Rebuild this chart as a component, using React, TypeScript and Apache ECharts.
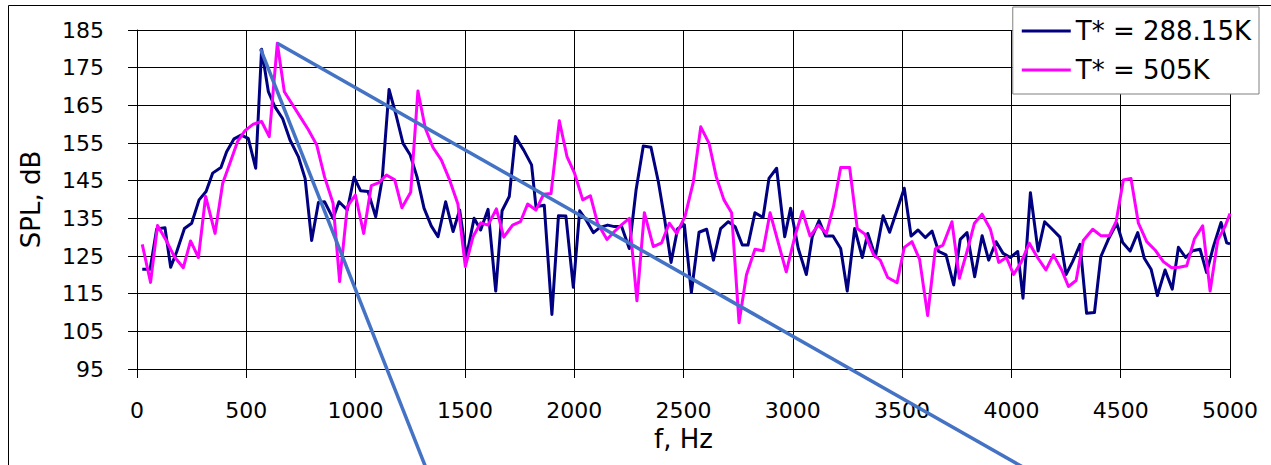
import React, { useEffect, useRef } from "react";
import * as echarts from "echarts";

const seriesNames = ["T* = 288.15K", "T* = 505K"];

const t288: [number, number][] = [
  [24,121.5],[60,121.5],[90,132.2],[128,132.5],[154,122],[182,126.2],[217,132.3],[250,133.7],[284,139.9],[316,142.1],
  [346,147],[384,148.5],[410,152.7],[444,156.1],[476,157.1],[509,156.2],[543,148.3],[570,179.9],[601,168.6],[631,164.6],
  [666,161.5],[700,155.8],[738,151.4],[769,145.6],[799,129.1],[830,139.2],[858,139.4],[897,135],[924,139.4],[962,137.2],
  [993,145.9],[1023,142.3],[1057,142.1],[1092,135.4],[1122,145.6],[1153,169.2],[1183,162.9],[1217,154.9],[1250,151.8],[1281,146],
  [1313,137.7],[1346,133],[1377,130.1],[1412,139.4],[1446,131.5],[1476,137.2],[1507,124.8],[1542,135],[1572,131.9],[1606,137.4],
  [1641,115.7],[1670,137],[1703,140.8],[1731,156.7],[1769,153.1],[1805,149.2],[1825,138.1],[1863,138.5],[1898,109.5],[1928,135.7],
  [1962,135.6],[1996,116.7],[2025,137],[2054,134.6],[2088,131.2],[2118,132.6],[2153,133.2],[2184,132.8],[2217,132.8],[2252,127],
  [2283,142.5],[2316,154.2],[2351,153.9],[2385,144.7],[2412,135.4],[2443,123.3],[2473,132.2],[2504,133.3],[2536,115.3],[2571,131.3],
  [2606,132.1],[2637,123.9],[2670,132.3],[2705,134.1],[2736,132.8],[2769,127.9],[2795,127.9],[2827,136.5],[2864,135.2],[2891,145.6],
  [2926,148.3],[2963,130.1],[2990,137.7],[3025,127],[3062,120.1],[3089,130.1],[3120,134.4],[3150,130.3],[3184,130.3],[3219,127],
  [3249,115.7],[3283,132.3],[3318,124.6],[3343,131],[3378,124.8],[3413,135.7],[3443,131.3],[3477,137.2],[3510,143],[3541,130.3],
  [3573,131.9],[3606,129.9],[3637,131.6],[3667,126.2],[3701,125.3],[3736,117.3],[3766,129.4],[3797,131.2],[3832,119.5],[3866,130.4],
  [3896,123.9],[3930,128.8],[3962,125.7],[3995,124.6],[4029,126.2],[4053,113.8],[4087,141.8],[4122,126.3],[4152,134.1],[4180,132.5],
  [4222,130],[4250,120.1],[4280,123.5],[4314,128.1],[4344,109.8],[4380,110],[4409,124.8],[4444,129.5],[4482,133.7],[4509,128.6],
  [4543,126.3],[4578,131.2],[4608,124.4],[4639,121.5],[4668,114.5],[4703,121.3],[4736,116.2],[4764,127.3],[4797,124.6],[4829,126.4],
  [4863,126.8],[4893,120.6],[4924,127.5],[4959,133.9],[4985,128.5],[5000,128.2]
];

const t505: [number, number][] = [
  [24,128.1],[62,118],[94,133.1],[133,129.2],[171,124.8],[212,121.9],[245,129],[281,124.6],[314,140.8],[357,131],
  [392,144.3],[425,149.6],[460,155.4],[494,158.3],[532,160],[570,160.7],[605,156.7],[642,181.5],[674,168.6],[708,165.5],
  [746,162],[784,158.5],[822,154.5],[858,146],[897,139],[927,118.2],[962,138.1],[999,141.2],[1037,131],[1072,143.7],
  [1107,144.5],[1141,146.5],[1179,145.2],[1212,137.8],[1252,141.9],[1285,168.8],[1319,158.9],[1354,153.8],[1392,150.5],[1430,145.2],
  [1468,138.8],[1502,122.2],[1537,130.1],[1572,133.8],[1606,133.2],[1644,137.5],[1678,130],[1718,133.2],[1754,134.1],[1787,138.8],
  [1825,137.2],[1860,141.4],[1894,141.6],[1932,160.9],[1967,151.4],[2001,147.1],[2039,139.9],[2074,141],[2107,133.7],[2150,129.4],
  [2184,131.5],[2219,133.4],[2252,135],[2287,113.1],[2321,136.5],[2362,127.5],[2400,128.5],[2435,133.7],[2469,131],[2507,135.5],
  [2545,144.7],[2579,159.3],[2617,154.9],[2650,146],[2685,139.9],[2720,136.5],[2754,107.3],[2788,120],[2827,126.8],[2864,126.4],
  [2896,136.5],[2934,128.4],[2970,120.8],[3009,130.1],[3044,136.8],[3079,130.3],[3117,133.2],[3154,131],[3186,138.1],[3219,148.5],
  [3260,148.5],[3295,132.3],[3330,130.8],[3370,125.3],[3400,123.9],[3434,119.3],[3477,117.9],[3510,127.3],[3545,128.8],[3580,124.1],
  [3617,109.2],[3652,126.9],[3687,127.9],[3728,134.1],[3762,119.1],[3797,126.2],[3831,133.7],[3866,136.1],[3904,132.1],[3942,123.3],
  [3977,124.6],[4010,120.1],[4046,123.5],[4082,128.4],[4117,124.8],[4158,121.3],[4192,125.3],[4230,121.3],[4261,116.9],[4296,118.5],
  [4329,129.1],[4372,132.1],[4409,130.4],[4448,130.4],[4479,134.1],[4512,145.2],[4547,145.6],[4581,133.7],[4619,128.8],[4657,126.6],
  [4695,123.5],[4733,121.9],[4768,122],[4802,122.4],[4837,129.5],[4875,133],[4909,115.7],[4944,129.2],[4977,132.8],[5000,136.3]
];

const trendSteep: [number, number][] = [[565, 180], [1350, 64.6]];
const trendShallow: [number, number][] = [[642, 181.5], [4200, 64.1]];

const FONT = "DejaVu Sans";

export default function App() {
  const ref = useRef<HTMLDivElement>(null);
  useEffect(() => {
    if (!ref.current) return;
    const chart = echarts.init(ref.current, null, { renderer: "svg" });
    chart.setOption({
      animation: false,
      backgroundColor: "#ffffff",
      grid: { left: 137, right: 41, top: 30, bottom: 96, containLabel: false },
      xAxis: {
        type: "value",
        min: 0,
        max: 5000,
        interval: 500,
        name: "f, Hz",
        nameLocation: "middle",
        nameGap: 57,
        nameTextStyle: { fontFamily: FONT, fontSize: 26, color: "#000" },
        axisLine: { show: true, onZero: false, lineStyle: { color: "#000", width: 1 } },
        axisTick: { show: true, inside: false, length: 9, lineStyle: { color: "#000", width: 1 } },
        axisLabel: {
          margin: 30,
          fontFamily: FONT,
          fontSize: 22,
          color: "#000",
          formatter: (v: number) => String(v),
        },
        splitLine: { show: true, lineStyle: { color: "#000", width: 1 } },
      },
      yAxis: {
        type: "value",
        min: 95,
        max: 185,
        interval: 10,
        name: "SPL, dB",
        nameLocation: "middle",
        nameGap: 93,
        nameTextStyle: { fontFamily: FONT, fontSize: 26, color: "#000" },
        axisLine: { show: true, onZero: false, lineStyle: { color: "#000", width: 1 } },
        axisTick: { show: true, inside: false, length: 9, lineStyle: { color: "#000", width: 1 } },
        axisLabel: {
          margin: 33,
          fontFamily: FONT,
          fontSize: 22,
          color: "#000",
          formatter: (v: number) => String(v),
        },
        splitLine: { show: true, lineStyle: { color: "#000", width: 1 } },
      },
      legend: {
        data: seriesNames,
        orient: "vertical",
        right: 12,
        top: 7,
        backgroundColor: "#fff",
        borderColor: "#808080",
        borderWidth: 1,
        borderRadius: 0,
        padding: [11, 8, 11, 9],
        itemGap: 13,
        itemWidth: 49,
        itemHeight: 3,
        icon: "rect",
        textStyle: { fontFamily: FONT, fontSize: 26, color: "#000" },
      },
      graphic: [
        {
          type: "rect",
          silent: true,
          z: 100,
          shape: { x: 8.5, y: 5.5, width: 1400, height: 600 },
          style: { fill: "none", stroke: "#000", lineWidth: 1 },
        },
      ],
      series: [
        {
          name: seriesNames[0],
          type: "line",
          data: t288,
          symbol: "none",
          showSymbol: false,
          itemStyle: { color: "#000080" },
          lineStyle: { color: "#000080", width: 3, join: "round" },
          z: 2,
        },
        {
          name: seriesNames[1],
          type: "line",
          data: t505,
          symbol: "none",
          showSymbol: false,
          itemStyle: { color: "#FF00FF" },
          lineStyle: { color: "#FF00FF", width: 3, join: "round" },
          z: 3,
        },
        {
          type: "line",
          data: trendSteep,
          symbol: "none",
          showSymbol: false,
          clip: false,
          silent: true,
          lineStyle: { color: "#4472C4", width: 3.5 },
          z: 4,
        },
        {
          type: "line",
          data: trendShallow,
          symbol: "none",
          showSymbol: false,
          clip: false,
          silent: true,
          lineStyle: { color: "#4472C4", width: 3.5 },
          z: 4,
        },
      ],
    });
    return () => chart.dispose();
  }, []);
  return (
    <div
      ref={ref}
      style={{ position: "absolute", left: 0, top: 0, width: 1271, height: 465 }}
    />
  );
}
